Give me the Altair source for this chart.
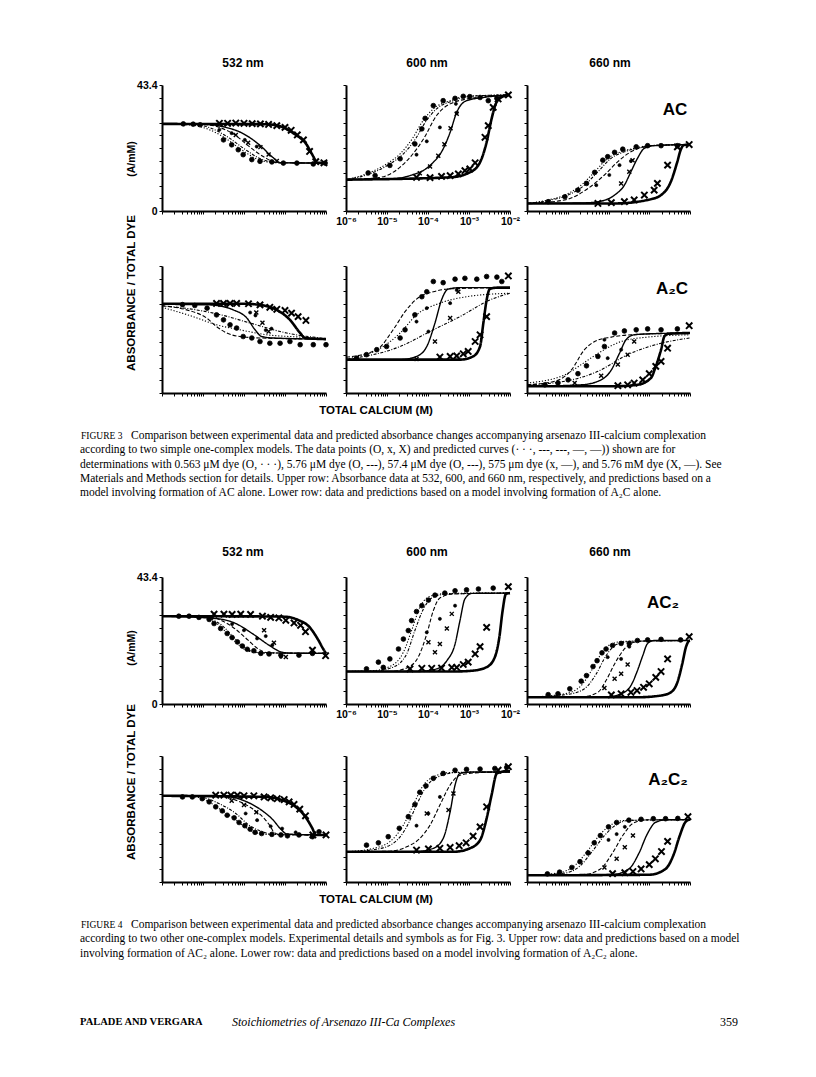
import altair as alt
import pandas as pd

# ---------------- values ----------------
# curve / point coordinates: (log10 of total calcium in M, absorbance / total dye in A/mM)
CURVE_IDS = ["0.563 uM", "5.76 uM", "57.4 uM", "575 uM", "5.76 mM"]
KINDS = ["dot", "o", "x", "X"]

# ---- Figure 3, upper row: AC model ----
F3_532_AC = [
    [(-6, 30.0), (-5.3, 29.6), (-4.9, 28.3), (-4.5, 25.5), (-4.1, 21.5), (-3.7, 18.0), (-3.3, 16.7), (-2, 16.5)],
    [(-6, 30.0), (-5.2, 29.7), (-4.8, 28.5), (-4.4, 25.5), (-4.0, 21.5), (-3.6, 18.0), (-3.2, 16.7), (-2, 16.5)],
    [(-6, 30.0), (-5.0, 29.8), (-4.6, 28.8), (-4.2, 26.0), (-3.9, 22.5), (-3.5, 18.5), (-3.2, 16.7), (-2, 16.5)],
    [(-6, 30.0), (-5.0, 29.9), (-4.5, 29.0), (-4.0, 26.5), (-3.6, 22.5), (-3.3, 18.5), (-3.1, 16.6), (-2, 16.5)],
    [(-6, 30.0), (-3.5, 29.9), (-3.2, 29.5), (-2.8, 26.8), (-2.47, 22.8), (-2.31, 18.8), (-2.22, 16.7), (-2, 16.5)],
]
F3_532_AC_PTS = {
    "dot": [(-5.48, 30.0), (-5.24, 29.9), (-5.07, 29.7), (-4.50, 24.5), (-4.30, 22.8), (-4.14, 21.1), (-4.02, 19.4),
            (-3.81, 17.7), (-3.61, 17.1), (-3.32, 16.9), (-3.04, 16.5), (-2.71, 16.5), (-2.31, 16.2), (-2.02, 16.5)],
    "o": [(-4.30, 26.8), (-3.98, 24.5), (-3.69, 22.2), (-4.6, 28.0)],
    "x": [(-4.2, 26.2), (-3.9, 23.5), (-3.6, 22.0), (-3.4, 19.5), (-3.2, 17.2)],
    "X": [(-4.6, 30.2), (-4.4, 30.2), (-4.2, 30.3), (-4.0, 30.2), (-3.8, 30.1), (-3.6, 30.0), (-3.4, 29.8), (-3.2, 29.4),
          (-3.0, 28.8), (-2.85, 27.8), (-2.7, 26.2), (-2.55, 24.5), (-2.4, 20.5), (-2.25, 17.0), (-2.05, 16.6)],
}
F3_600_AC = [
    [(-6, 10.8), (-5.5, 12.8), (-5.01, 16.2), (-4.68, 19.7), (-4.36, 25.4), (-4.15, 30.5), (-3.87, 35.2), (-3.46, 38.0), (-3.06, 39.5), (-2, 40.0)],
    [(-6, 10.8), (-5.42, 12.8), (-4.93, 16.2), (-4.6, 19.7), (-4.28, 25.4), (-4.07, 30.5), (-3.79, 35.2), (-3.38, 38.0), (-2.98, 39.5), (-2, 40.0)],
    [(-6, 10.8), (-5.2, 11.5), (-4.68, 15.1), (-4.11, 24.8), (-3.79, 32.9), (-3.46, 36.9), (-2.81, 39.1), (-2, 40.0)],
    [(-6, 10.8), (-4.8, 11.2), (-4.44, 12.2), (-3.95, 15.7), (-3.63, 21.4), (-3.46, 27.1), (-3.30, 34.0), (-3.06, 38.0), (-2.65, 39.1), (-2, 40.0)],
    [(-6, 10.8), (-3.46, 11.6), (-2.98, 13.3), (-2.73, 16.8), (-2.57, 23.7), (-2.45, 31.7), (-2.33, 37.4), (-2.16, 39.5), (-2, 40.0)],
]
F3_600_AC_PTS = {
    "dot": [(-5.46, 13.1), (-5.29, 12.2), (-4.93, 15.7), (-4.68, 18.0), (-4.32, 23.1), (-4.15, 28.3), (-4.07, 31.9),
            (-3.87, 36.3), (-3.63, 38.0), (-3.34, 38.8), (-3.14, 39.5), (-2.98, 39.4), (-2.73, 39.1), (-2.53, 38.0), (-2.32, 38.8)],
    "o": [(-4.28, 19.4), (-4.03, 24.0), (-3.71, 28.8), (-3.30, 33.8), (-3.32, 36.9)],
    "x": [(-4.2, 13.0), (-3.95, 15.3), (-3.75, 19.0), (-3.6, 23.0), (-3.45, 28.5), (-3.3, 33.5)],
    "X": [(-4.28, 11.6), (-3.95, 11.5), (-3.67, 11.9), (-3.46, 12.2), (-3.26, 12.8), (-3.10, 13.9), (-2.98, 14.5),
          (-2.85, 16.6), (-2.61, 25.4), (-2.53, 29.4), (-2.41, 35.7), (-2.29, 38.6), (-2.04, 40.0)],
}
F3_660_AC = [
    [(-6, 2.6), (-5.48, 3.8), (-5.07, 5.5), (-4.67, 8.9), (-4.34, 13.5), (-4.02, 18.1), (-3.69, 20.4), (-3.29, 21.8), (-3.04, 22.5), (-2, 22.9)],
    [(-6, 2.6), (-5.40, 3.8), (-4.99, 5.5), (-4.59, 8.9), (-4.26, 13.5), (-3.94, 18.1), (-3.61, 20.4), (-3.21, 21.8), (-2.96, 22.5), (-2, 22.9)],
    [(-6, 2.6), (-5.07, 3.8), (-4.50, 7.8), (-4.10, 12.4), (-3.77, 17.0), (-3.45, 20.4), (-3.12, 22.1), (-2.71, 22.7), (-2, 22.9)],
    [(-6, 2.6), (-4.6, 2.8), (-4.26, 3.2), (-3.85, 5.5), (-3.61, 8.9), (-3.45, 13.5), (-3.29, 18.1), (-3.12, 21.6), (-2.88, 22.5), (-2, 22.9)],
    [(-6, 2.6), (-3.85, 2.6), (-3.04, 3.8), (-2.71, 5.5), (-2.47, 10.1), (-2.31, 17.0), (-2.23, 21.0), (-2.15, 22.7), (-2, 22.9)],
]
F3_660_AC_PTS = {
    "dot": [(-5.48, 3.2), (-5.07, 4.9), (-4.75, 7.2), (-4.54, 9.5), (-4.34, 13.3), (-4.14, 17.5), (-4.02, 18.7),
            (-3.85, 20.2), (-3.65, 21.3), (-3.32, 22.1), (-3.04, 22.5), (-2.71, 22.5), (-2.31, 22.5)],
    "o": [(-4.30, 8.9), (-3.98, 12.4), (-3.73, 15.8), (-3.45, 17.2)],
    "x": [(-3.69, 9.5), (-3.49, 13.5), (-3.41, 17.5)],
    "X": [(-4.26, 2.6), (-3.93, 2.9), (-3.61, 3.2), (-3.37, 3.8), (-3.12, 5.5), (-2.88, 7.2), (-2.80, 9.5),
          (-2.55, 15.8), (-2.31, 22.1), (-2.02, 22.9)],
}

# ---- Figure 3, lower row: A2C model ----
F3_532_A2C = [
    [(-6, 29.3), (-5.24, 26.1), (-4.67, 23.3), (-4.10, 21.6), (-3.45, 19.9), (-2.63, 19.1), (-2, 18.4)],
    [(-6, 29.8), (-5.2, 28.5), (-4.5, 26.5), (-3.85, 23.9), (-2.96, 20.5), (-2, 18.6)],
    [(-6, 29.8), (-5.40, 28.4), (-4.91, 25.6), (-4.67, 22.7), (-4.42, 20.5), (-4.10, 19.3), (-3.61, 18.8), (-2, 18.4)],
    [(-6, 30.3), (-4.83, 30.1), (-4.26, 28.4), (-3.93, 25.6), (-3.73, 21.6), (-3.57, 19.3), (-3.28, 18.8), (-2, 18.4)],
    [(-6, 30.5), (-4.02, 30.5), (-3.61, 30.1), (-3.20, 28.4), (-2.88, 25.0), (-2.63, 20.5), (-2.51, 18.8), (-2, 18.4)],
]
F3_532_A2C_PTS = {
    "dot": [(-5.5, 30.2), (-5.2, 29.9), (-4.9, 29.0), (-4.67, 26.7), (-4.50, 25.0), (-4.34, 23.3), (-4.18, 22.2), (-4.02, 19.3),
            (-3.81, 18.8), (-3.61, 17.6), (-3.37, 17.0), (-3.12, 17.0), (-2.88, 17.6), (-2.63, 16.5), (-2.31, 16.5), (-2.0, 16.5)],
    "o": [(-3.72, 26.5), (-3.85, 27.5), (-3.47, 21.5), (-3.33, 22.0)],
    "x": [(-3.7, 27.5), (-3.55, 24.0), (-3.4, 21.0)],
    "X": [(-4.67, 30.6), (-4.5, 30.6), (-4.34, 30.6), (-4.18, 30.6), (-3.89, 30.5), (-3.61, 30.1), (-3.37, 29.3),
          (-3.20, 28.6), (-3.00, 28.2), (-2.84, 27.3), (-2.68, 26.1), (-2.49, 24.8)],
}
F3_600_A2C = [
    [(-6, 11.6), (-5.09, 15.9), (-4.68, 20.5), (-4.28, 26.7), (-3.71, 30.7), (-3.06, 32.9), (-2, 34.1)],
    [(-6, 11.4), (-4.68, 15.9), (-3.87, 21.6), (-3.22, 26.1), (-2.49, 31.8), (-2, 34.1)],
    [(-6, 12.2), (-5.25, 14.8), (-4.85, 21.6), (-4.56, 27.8), (-4.28, 32.1), (-3.87, 34.6), (-3.46, 35.6), (-2, 36.0)],
    [(-6, 11.4), (-4.68, 11.4), (-4.28, 12.5), (-4.03, 15.9), (-3.83, 23.9), (-3.67, 31.8), (-3.51, 35.5), (-3.22, 36.0), (-2, 36.0)],
    [(-6, 11.4), (-3.22, 11.4), (-2.90, 12.5), (-2.73, 15.9), (-2.65, 23.9), (-2.57, 31.8), (-2.49, 35.6), (-2.3, 36.0), (-2, 36.0)],
]
F3_600_A2C_PTS = {
    "dot": [(-3.87, 38.1), (-3.63, 37.7), (-3.34, 38.9), (-3.10, 39.2), (-2.81, 38.9), (-2.57, 39.8), (-2.32, 39.6), (-2.20, 38.1),
            (-4.03, 34.6), (-4.15, 32.9), (-4.32, 26.7), (-4.56, 21.6), (-4.68, 18.8), (-5.01, 15.9), (-5.25, 14.8),
            (-5.50, 13.1), (-5.74, 11.9)],
    "o": [(-4.28, 24.4), (-4.03, 29.0), (-3.46, 30.7), (-3.30, 35.2), (-3.99, 21.0)],
    "x": [(-3.83, 17.6), (-3.46, 25.6), (-3.26, 34.6), (-4.28, 11.6)],
    "X": [(-3.71, 12.3), (-3.46, 12.5), (-3.30, 12.7), (-3.14, 13.4), (-3.02, 14.2), (-2.85, 17.6), (-2.73, 19.9),
          (-2.57, 26.1), (-2.04, 40.0)],
}
F3_660_A2C = [
    [(-6, 3.4), (-5.07, 6.2), (-4.67, 9.7), (-4.18, 14.2), (-3.69, 17.6), (-3.04, 19.1), (-2, 19.9)],
    [(-6, 2.8), (-5.07, 4.0), (-4.26, 7.4), (-3.53, 13.1), (-2.71, 17.0), (-2, 18.8)],
    [(-6, 2.8), (-5.32, 4.0), (-4.91, 7.9), (-4.59, 14.8), (-4.34, 17.6), (-3.93, 19.1), (-3.45, 19.9), (-2, 20.5)],
    [(-6, 2.3), (-4.67, 2.8), (-4.26, 4.0), (-3.93, 7.9), (-3.73, 13.6), (-3.57, 18.2), (-3.37, 19.9), (-3.04, 20.2), (-2, 20.5)],
    [(-6, 2.3), (-3.85, 2.3), (-3.29, 2.8), (-2.96, 5.1), (-2.84, 9.1), (-2.71, 14.8), (-2.63, 19.3), (-2.55, 20.2), (-2, 20.5)],
]
F3_660_A2C_PTS = {
    "dot": [(-5.56, 2.8), (-5.24, 3.4), (-4.99, 4.5), (-4.75, 6.6), (-4.54, 9.3), (-4.26, 12.5), (-4.10, 15.9), (-3.85, 20.5),
            (-3.61, 21.2), (-3.32, 21.6), (-3.04, 21.9), (-2.71, 21.6), (-2.31, 21.9)],
    "o": [(-4.02, 11.9), (-3.69, 14.8), (-4.10, 18.2)],
    "x": [(-4.83, 3.4), (-4.18, 5.9), (-3.77, 9.7), (-3.53, 13.1), (-3.37, 17.6)],
    "X": [(-3.77, 2.5), (-3.53, 2.8), (-3.37, 3.4), (-3.16, 4.5), (-3.0, 6.6), (-2.84, 9.1), (-2.71, 10.8), (-2.55, 15.3), (-2.02, 23.0)],
}

# ---- Figure 4, upper row: AC2 model ----
F4_532_AC2 = [
    [(-6, 30.0), (-5.0, 29.8), (-4.85, 28.9), (-4.61, 26.9), (-4.37, 23.5), (-4.12, 20.1), (-3.92, 18.2), (-3.63, 17.5), (-2, 17.3)],
    [(-6, 30.0), (-4.93, 29.8), (-4.78, 28.9), (-4.54, 26.9), (-4.30, 23.5), (-4.05, 20.1), (-3.85, 18.2), (-3.56, 17.5), (-2, 17.3)],
    [(-6, 30.0), (-4.8, 29.6), (-4.5, 28.2), (-4.2, 25.5), (-3.9, 21.8), (-3.65, 18.8), (-3.4, 17.5), (-2, 17.3)],
    [(-6, 30.0), (-4.69, 29.2), (-4.20, 27.5), (-3.80, 24.1), (-3.39, 20.1), (-3.10, 17.8), (-2.9, 17.4), (-2, 17.3)],
    [(-6, 30.0), (-3.2, 29.9), (-2.98, 29.8), (-2.66, 28.6), (-2.41, 26.4), (-2.21, 22.4), (-2.05, 18.4), (-2, 17.3)],
]
F4_532_AC2_PTS = {
    "dot": [(-5.59, 30.0), (-5.34, 30.0), (-5.10, 29.6), (-4.85, 28.9), (-4.73, 27.5), (-4.57, 25.8), (-4.41, 24.1), (-4.29, 22.7),
            (-4.16, 21.2), (-4.04, 19.8), (-3.92, 18.7), (-3.76, 18.2), (-3.59, 17.3), (-3.39, 17.1), (-3.10, 16.7),
            (-2.66, 16.7), (-2.33, 17.3)],
    "o": [(-4.29, 27.3), (-4.0, 25.2), (-3.68, 22.4), (-3.47, 23.2), (-3.31, 20.1), (-3.10, 16.1)],
    "x": [(-3.51, 25.2), (-3.27, 20.9), (-2.98, 16.1)],
    "X": [(-4.73, 30.7), (-4.49, 30.7), (-4.29, 30.6), (-4.08, 30.7), (-3.84, 30.6), (-3.55, 30.0), (-3.35, 29.6),
          (-3.15, 29.4), (-2.98, 28.6), (-2.78, 27.7), (-2.62, 26.9), (-2.50, 24.7), (-2.33, 18.4), (-2.01, 16.5)],
}
F4_600_AC2 = [
    [(-6, 11.1), (-5.33, 11.4), (-4.93, 12.8), (-4.60, 17.7), (-4.40, 25.1), (-4.20, 33.0), (-4.03, 36.2), (-3.71, 37.6), (-2.90, 37.9), (-2, 37.9)],
    [(-6, 11.1), (-5.3, 11.3), (-4.85, 12.6), (-4.52, 17.1), (-4.32, 25.1), (-4.11, 32.5), (-3.91, 36.2), (-3.54, 37.6), (-2, 37.9)],
    [(-6, 11.1), (-4.93, 11.1), (-4.52, 12.3), (-4.24, 16.0), (-4.03, 23.9), (-3.87, 31.9), (-3.71, 36.2), (-3.38, 37.6), (-2, 37.9)],
    [(-6, 11.1), (-4.28, 11.1), (-3.79, 12.0), (-3.54, 14.8), (-3.34, 20.5), (-3.22, 28.5), (-3.10, 35.9), (-2.93, 37.8), (-2, 37.9)],
    [(-6, 11.1), (-3.38, 11.1), (-2.90, 11.4), (-2.57, 12.6), (-2.37, 16.0), (-2.26, 22.8), (-2.18, 31.9), (-2.10, 37.6), (-2, 37.9)],
]
F4_600_AC2_PTS = {
    "dot": [(-5.50, 12.0), (-5.21, 14.3), (-5.09, 12.5), (-4.93, 15.4), (-4.72, 18.8), (-4.60, 22.2), (-4.48, 25.1), (-4.40, 28.5),
            (-4.28, 31.6), (-4.15, 33.6), (-3.99, 35.5), (-3.83, 37.2), (-3.59, 37.9), (-3.34, 38.7), (-3.06, 39.0),
            (-2.77, 39.3), (-2.41, 39.6)],
    "o": [(-4.03, 24.5), (-3.71, 29.1), (-3.34, 33.6)],
    "x": [(-3.99, 21.1), (-3.83, 17.7), (-3.71, 20.5), (-3.54, 25.8), (-3.42, 30.8)],
    "X": [(-4.44, 12.0), (-4.15, 12.2), (-3.91, 12.2), (-3.67, 12.3), (-3.42, 12.5), (-3.30, 12.5), (-3.14, 13.5),
          (-3.02, 14.3), (-2.85, 17.1), (-2.73, 19.6), (-2.57, 26.2), (-2.04, 40.1)],
}
F4_660_AC2 = [
    [(-6, 2.3), (-5.07, 3.5), (-4.67, 6.3), (-4.42, 11.4), (-4.18, 17.1), (-3.93, 20.5), (-3.61, 21.4), (-2, 21.7)],
    [(-6, 2.3), (-5.0, 3.3), (-4.59, 5.2), (-4.30, 10.3), (-4.06, 16.5), (-3.81, 20.3), (-3.45, 21.4), (-2, 21.7)],
    [(-6, 2.3), (-4.67, 2.4), (-4.26, 4.0), (-4.06, 8.0), (-3.85, 13.7), (-3.61, 18.8), (-3.37, 21.1), (-3.0, 21.6), (-2, 21.7)],
    [(-6, 2.3), (-4.10, 2.3), (-3.69, 3.5), (-3.45, 6.3), (-3.29, 11.4), (-3.16, 16.5), (-3.04, 20.7), (-2.88, 21.7), (-2, 21.7)],
    [(-6, 2.3), (-3.29, 2.3), (-2.71, 2.9), (-2.47, 4.0), (-2.31, 7.4), (-2.19, 13.7), (-2.10, 19.4), (-2.03, 21.5), (-2, 21.7)],
]
F4_660_AC2_PTS = {
    "dot": [(-5.48, 3.2), (-5.24, 3.5), (-4.95, 5.2), (-4.67, 7.8), (-4.54, 9.7), (-4.38, 12.8), (-4.28, 14.8), (-4.16, 17.5),
            (-4.06, 18.8), (-3.90, 20.0), (-3.69, 20.7), (-3.49, 20.7), (-3.29, 21.7), (-3.04, 21.9), (-2.71, 22.1), (-2.23, 21.9)],
    "o": [(-4.02, 16.0), (-3.69, 15.4), (-3.49, 19.6)],
    "x": [(-4.10, 5.5), (-3.85, 8.6), (-3.69, 10.3), (-3.53, 13.5)],
    "X": [(-3.93, 3.1), (-3.69, 3.5), (-3.45, 4.0), (-3.30, 4.6), (-3.14, 5.7), (-3.0, 6.9), (-2.84, 9.1), (-2.71, 11.1),
          (-2.55, 15.4), (-2.02, 23.0)],
}

# ---- Figure 4, lower row: A2C2 model ----
F4_532_A2C2 = [
    [(-6, 29.7), (-5.18, 29.3), (-4.93, 28.2), (-4.61, 25.3), (-4.29, 22.4), (-4.04, 19.6), (-3.80, 17.5), (-3.47, 16.4), (-2, 16.2)],
    [(-6, 29.7), (-5.1, 29.4), (-4.61, 27.0), (-4.20, 23.6), (-3.88, 19.6), (-3.55, 17.3), (-3.3, 16.4), (-2, 16.2)],
    [(-6, 29.7), (-4.69, 29.7), (-4.20, 28.2), (-3.80, 25.3), (-3.51, 21.9), (-3.35, 19.0), (-3.27, 17.1), (-3.1, 16.3), (-2, 16.2)],
    [(-6, 29.7), (-4.5, 29.6), (-4.0, 28.0), (-3.6, 25.0), (-3.3, 21.5), (-3.1, 18.2), (-2.95, 16.5), (-2, 16.2)],
    [(-6, 29.7), (-3.47, 29.3), (-3.07, 28.2), (-2.74, 25.9), (-2.50, 22.4), (-2.33, 18.4), (-2.25, 16.2), (-2, 16.2)],
]
F4_532_A2C2_PTS = {
    "dot": [(-5.50, 29.3), (-5.26, 29.3), (-5.02, 28.7), (-4.85, 27.6), (-4.69, 25.9), (-4.53, 24.5), (-4.41, 23.0), (-4.24, 22.1),
            (-4.12, 20.5), (-3.98, 19.4), (-3.85, 18.2), (-3.73, 17.1), (-3.57, 16.7), (-3.32, 16.4), (-3.10, 16.2),
            (-2.94, 15.9), (-2.66, 16.2), (-2.33, 15.6), (-2.17, 17.3)],
    "o": [(-3.96, 23.6), (-3.68, 21.3), (-3.35, 19.2), (-3.07, 18.4), (-2.74, 17.1)],
    "x": [(-4.3, 28.0), (-4.0, 26.5), (-3.7, 24.0)],
    "X": [(-4.69, 29.9), (-4.49, 29.9), (-4.32, 29.9), (-4.16, 29.9), (-4.0, 29.7), (-3.76, 29.7), (-3.51, 29.3), (-3.35, 29.0),
          (-3.19, 28.7), (-3.02, 28.4), (-2.90, 27.6), (-2.78, 26.7), (-2.64, 25.1), (-2.50, 22.8), (-2.32, 16.2), (-2.0, 16.2)],
}
F4_600_A2C2 = [
    [(-6, 10.4), (-5.33, 11.6), (-4.93, 13.9), (-4.60, 19.6), (-4.36, 26.5), (-4.11, 33.4), (-3.87, 36.2), (-3.46, 37.7), (-2, 37.9)],
    [(-6, 10.4), (-5.3, 11.2), (-4.85, 13.3), (-4.52, 19.0), (-4.28, 26.5), (-4.03, 33.1), (-3.79, 36.0), (-3.3, 37.7), (-2, 37.9)],
    [(-6, 10.4), (-4.93, 10.6), (-4.52, 12.1), (-4.20, 15.0), (-3.95, 19.6), (-3.71, 26.5), (-3.46, 33.4), (-3.22, 36.8), (-2.73, 37.7), (-2, 37.9)],
    [(-6, 10.4), (-4.36, 10.4), (-3.87, 11.6), (-3.63, 15.0), (-3.46, 24.2), (-3.34, 33.4), (-3.22, 37.4), (-2.9, 37.9), (-2, 37.9)],
    [(-6, 10.4), (-3.38, 10.4), (-2.98, 11.6), (-2.73, 14.4), (-2.57, 21.9), (-2.45, 29.9), (-2.32, 37.4), (-2.08, 38.2), (-2, 38.2)],
]
F4_600_A2C2_PTS = {
    "dot": [(-5.50, 12.7), (-5.21, 13.5), (-4.97, 15.6), (-4.70, 18.5), (-4.48, 22.5), (-4.32, 26.7), (-4.20, 30.9), (-4.05, 33.1),
            (-3.87, 35.7), (-3.63, 37.4), (-3.34, 38.5), (-3.06, 38.8), (-2.73, 38.9), (-2.37, 39.1), (-2.08, 39.5)],
    "o": [(-4.28, 19.4), (-3.99, 23.6), (-3.71, 29.3)],
    "x": [(-4.03, 23.6), (-3.50, 24.8), (-3.38, 30.5)],
    "X": [(-4.28, 11.0), (-3.99, 11.4), (-3.71, 11.6), (-3.46, 11.9), (-3.24, 12.5), (-3.07, 13.5), (-2.90, 15.8),
          (-2.73, 19.0), (-2.57, 25.9), (-2.29, 38.5), (-2.04, 39.7)],
}
F4_660_A2C2 = [
    [(-6, 2.3), (-5.2, 3.2), (-4.8, 6.0), (-4.5, 11.0), (-4.2, 16.5), (-3.9, 20.0), (-3.6, 21.2), (-2, 21.5)],
    [(-6, 2.3), (-5.1, 3.0), (-4.7, 5.5), (-4.4, 10.5), (-4.1, 16.0), (-3.8, 19.8), (-3.5, 21.2), (-2, 21.5)],
    [(-6, 2.3), (-4.6, 2.6), (-4.2, 4.5), (-3.9, 10.0), (-3.65, 16.0), (-3.4, 20.2), (-3.1, 21.4), (-2, 21.5)],
    [(-6, 2.3), (-3.9, 2.6), (-3.5, 4.5), (-3.25, 10.0), (-3.05, 16.5), (-2.85, 20.5), (-2.6, 21.4), (-2, 21.5)],
    [(-6, 2.3), (-3.0, 2.5), (-2.6, 4.5), (-2.4, 9.5), (-2.25, 16.0), (-2.12, 20.5), (-2.02, 21.5), (-2, 21.6)],
]
F4_660_A2C2_PTS = {
    "dot": [(-5.5, 2.8), (-5.2, 3.4), (-4.9, 5.0), (-4.7, 7.0), (-4.5, 10.0), (-4.35, 13.5), (-4.2, 16.0), (-4.0, 19.0),
            (-3.8, 20.5), (-3.5, 21.3), (-3.2, 21.6), (-2.9, 21.8), (-2.6, 21.8), (-2.3, 21.9)],
    "o": [(-4.0, 14.5), (-3.8, 16.5), (-3.6, 19.0)],
    "x": [(-4.1, 5.0), (-3.8, 8.0), (-3.6, 12.0), (-3.4, 16.0)],
    "X": [(-3.9, 2.9), (-3.6, 3.2), (-3.4, 3.6), (-3.2, 4.5), (-3.0, 6.0), (-2.85, 8.0), (-2.7, 10.5), (-2.55, 14.0), (-2.05, 22.5)],
}

# ---- axis ticks and texts ----
X_DOMAIN = [1e-6, 1e-2]
X_DECADES = [-6, -5, -4, -3, -2]
X_DECADE_LABELS = ["10⁻⁶", "10⁻⁵", "10⁻⁴", "10⁻³", "10⁻²"]
Y_MAX = 43.4
Y_TICK_STEP = 4.34
Y_LABELS = ["0", "43.4"]
WAVELENGTHS = ["532 nm", "600 nm", "660 nm"]
MODELS = ["AC", "A₂C", "AC₂", "A₂C₂"]
Y_TITLE = ["ABSORBANCE / TOTAL DYE", "(A/mM)"]
X_TITLE = "TOTAL CALCIUM (M)"
CAPTION3_HEAD = "FIGURE 3"
CAPTION3 = [
    "Comparison between experimental data and predicted absorbance changes accompanying arsenazo III-calcium complexation",
    "according to two simple one-complex models. The data points (O, x, X) and predicted curves (· · ·, ---, ---, —, —)) shown are for",
    "determinations with 0.563 μM dye (O, · · ·), 5.76 μM dye (O, ---), 57.4 μM dye (O, ---), 575 μm dye (x, —), and 5.76 mM dye (X, —). See",
    "Materials and Methods section for details. Upper row: Absorbance data at 532, 600, and 660 nm, respectively, and predictions based on a",
    "model involving formation of AC alone. Lower row: data and predictions based on a model involving formation of A₂C alone.",
]
CAPTION4_HEAD = "FIGURE 4"
CAPTION4 = [
    "Comparison between experimental data and predicted absorbance changes accompanying arsenazo III-calcium complexation",
    "according to two other one-complex models. Experimental details and symbols as for Fig. 3. Upper row: data and predictions based on a model",
    "involving formation of AC₂ alone. Lower row: data and predictions based on a model involving formation of A₂C₂ alone.",
]
FOOTER = ["PALADE AND VERGARA", "Stoichiometries of Arsenazo III-Ca Complexes", "359"]

# ---------------- layout and styles ----------------
W, H = 800, 1061
OX, OY = 8, 8
COL_X = [(162, 326), (346, 510), (527, 690)]
ROW_Y = [(85, 211), (266, 393), (577, 704), (756, 882)]
SANS = "Liberation Sans"
SERIF = "Liberation Serif"
DASHES = [[1.2, 1.8], [3, 1.5, 1, 1.5], [4, 2], [1, 0], [1, 0]]
LINE_W = [1.1, 1.1, 1.1, 1.4, 2.6]
XPATH = "M-1,-1L1,1M-1,1L1,-1"
PT_SHAPES = ["circle", "circle", XPATH, XPATH]
PT_SIZES = [22, 10, 16, 40]
PT_FILL = ["black", "black", "transparent", "transparent"]
PT_STROKE = [0.8, 0.6, 1.4, 2.0]
CAPTION_SIZE = 11.5

PANELS = [
    (0, 0, F3_532_AC, F3_532_AC_PTS), (0, 1, F3_600_AC, F3_600_AC_PTS), (0, 2, F3_660_AC, F3_660_AC_PTS),
    (1, 0, F3_532_A2C, F3_532_A2C_PTS), (1, 1, F3_600_A2C, F3_600_A2C_PTS), (1, 2, F3_660_A2C, F3_660_A2C_PTS),
    (2, 0, F4_532_AC2, F4_532_AC2_PTS), (2, 1, F4_600_AC2, F4_600_AC2_PTS), (2, 2, F4_660_AC2, F4_660_AC2_PTS),
    (3, 0, F4_532_A2C2, F4_532_A2C2_PTS), (3, 1, F4_600_A2C2, F4_600_A2C2_PTS), (3, 2, F4_660_A2C2, F4_660_A2C2_PTS),
]

x_ticks = [k * 10.0 ** e for e in X_DECADES[:-1] for k in range(1, 10)] + [10.0 ** X_DECADES[-1]]
y_ticks = [round(i * Y_TICK_STEP, 2) for i in range(11)]

lg = "log(datum.value)/LN10"
x_label_expr = "abs(%s - round(%s)) > 0.01 ? '' : " % (lg, lg)
for e, lab in zip(X_DECADES, X_DECADE_LABELS):
    x_label_expr += "round(%s) == %d ? '%s' : " % (lg, e, lab)
x_label_expr += "''"
y_label_expr = "datum.value == 0 ? '%s' : (datum.value > %g ? '%s' : '')" % (Y_LABELS[0], Y_MAX - 0.1, Y_LABELS[1])

axis_common = dict(tickSize=3, tickWidth=1, tickColor="black", domainColor="black", domainWidth=2, grid=False,
                   title=None, labelFont=SANS, labelFontSize=10.5, labelFontWeight="bold", labelColor="black",
                   labelOverlap=False, labelFlush=False, labelPadding=2)


def curve_frame(curves):
    rows = []
    for i, pts in enumerate(curves):
        for lx, v in pts:
            rows.append({"calcium": 10.0 ** lx, "value": v, "curve": CURVE_IDS[i]})
    return pd.DataFrame(rows)


def point_frame(points):
    rows = []
    for kind in KINDS:
        for lx, v in points.get(kind, []):
            rows.append({"calcium": 10.0 ** lx, "value": v, "kind": kind})
    return pd.DataFrame(rows)


layers = []
for r, c, curves, points in PANELS:
    x0, x1 = COL_X[c]
    y0, y1 = ROW_Y[r]
    xs = alt.Scale(type="log", domain=X_DOMAIN, range=[x0 - OX, x1 - OX], nice=False)
    ys = alt.Scale(domain=[0, Y_MAX], range=[y1 - OY, y0 - OY], nice=False, zero=False)
    show_x = (c == 1 and r in (0, 2))
    show_y = (c == 0 and r in (0, 2))
    xaxis = alt.Axis(orient="bottom", offset=(y1 - OY) - H, values=x_ticks, labels=show_x,
                     labelExpr=x_label_expr, **axis_common)
    yaxis = alt.Axis(orient="left", offset=-(x0 - OX), values=y_ticks, labels=show_y,
                     labelExpr=y_label_expr, **axis_common)
    lines = alt.Chart(curve_frame(curves)).mark_line(interpolate="monotone", color="black").encode(
        x=alt.X("calcium:Q", scale=xs, axis=xaxis),
        y=alt.Y("value:Q", scale=ys, axis=yaxis),
        detail="curve:N",
        strokeDash=alt.StrokeDash("curve:N", scale=alt.Scale(domain=CURVE_IDS, range=DASHES), legend=None),
        strokeWidth=alt.StrokeWidth("curve:O", scale=alt.Scale(type="ordinal", domain=CURVE_IDS, range=LINE_W), legend=None),
    )
    pts = alt.Chart(point_frame(points)).mark_point(filled=False, color="black", opacity=1).encode(
        x=alt.X("calcium:Q", scale=xs, axis=None),
        y=alt.Y("value:Q", scale=ys, axis=None),
        shape=alt.Shape("kind:N", scale=alt.Scale(domain=KINDS, range=PT_SHAPES), legend=None),
        size=alt.Size("kind:O", scale=alt.Scale(type="ordinal", domain=KINDS, range=PT_SIZES), legend=None),
        fill=alt.Fill("kind:N", scale=alt.Scale(domain=KINDS, range=PT_FILL), legend=None),
        strokeWidth=alt.StrokeWidth("kind:O", scale=alt.Scale(type="ordinal", domain=KINDS, range=PT_STROKE), legend=None),
    )
    layers += [lines, pts]


def text(s, x, y, size, weight="normal", font=SANS, angle=0, align="center", style="normal"):
    return alt.Chart(pd.DataFrame({"t": [s]})).mark_text(
        font=font, fontSize=size, fontWeight=weight, fontStyle=style, angle=angle, align=align,
        baseline="middle", color="black"
    ).encode(text="t:N", x=alt.value(x - OX), y=alt.value(y - OY))


FIG_DY = [0, 489]
for dy in FIG_DY:
    for name, cx in zip(WAVELENGTHS, [243, 427, 610]):
        layers.append(text(name, cx, 63 + dy, 12, "bold"))
    layers.append(text(Y_TITLE[0], 132, 293 + dy, 11.5, "bold", angle=270))
    layers.append(text(Y_TITLE[1], 132, 159 + dy, 10.5, "bold", angle=270))
    layers.append(text(X_TITLE, 376, 411 + dy, 11.5, "bold"))

for name, (cx, cy) in zip(MODELS, [(675, 110), (672, 289), (663, 603), (668, 780)]):
    layers.append(text(name, cx, cy, 17, "bold"))

layers.append(text(CAPTION3_HEAD, 81, 436, 9.5, font=SERIF, align="left"))
for i, line in enumerate(CAPTION3):
    layers.append(text(line, 131 if i == 0 else 80, 436 + i * 14.3, CAPTION_SIZE, font=SERIF, align="left"))
layers.append(text(CAPTION4_HEAD, 81, 925, 9.5, font=SERIF, align="left"))
for i, line in enumerate(CAPTION4):
    layers.append(text(line, 131 if i == 0 else 80, 925 + i * 14.3, CAPTION_SIZE, font=SERIF, align="left"))

layers.append(text(FOOTER[0], 80, 1022, 10.5, "bold", font=SERIF, align="left"))
layers.append(text(FOOTER[1], 232, 1022, 12, font=SERIF, align="left", style="italic"))
layers.append(text(FOOTER[2], 738, 1022, 12, font=SERIF, align="right"))

chart = alt.layer(*layers).resolve_scale(
    x="independent", y="independent", strokeWidth="independent", size="independent"
).properties(
    width=W, height=H, padding=0, autosize=alt.AutoSizeParams(type="none"), background="white"
).configure_view(stroke=None)

chart.save("out.html", embed_options={"renderer": "svg", "actions": False})
